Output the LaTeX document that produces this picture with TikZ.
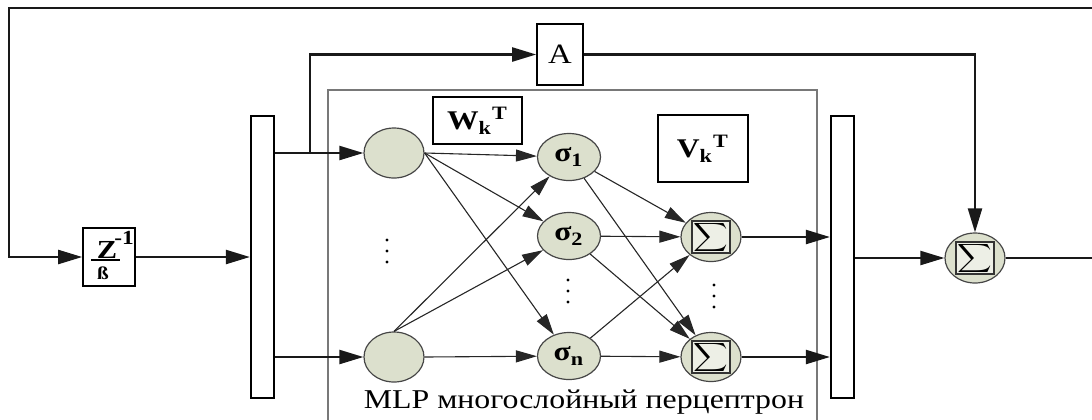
\documentclass[tikz,border=0pt]{standalone}
\usepackage{fontspec}
\setmainfont{Liberation Serif}
\usetikzlibrary{arrows.meta,shapes.geometric,calc}
\definecolor{nfill}{RGB}{220,224,205}
\definecolor{nedge}{RGB}{70,70,70}
\definecolor{frame}{RGB}{120,120,120}
\newcommand{\widetxt}[1]{\scalebox{1.17}[1]{#1}}
\newcommand{\sumsign}{\fontsize{8}{8}\selectfont\scalebox{1.2}[1]{$\displaystyle\sum$}}
\tikzset{
  mainline/.style={line width=1.1pt, draw=black!90},
  thinline/.style={line width=0.55pt, draw=black!85},
  bigtip/.style={-{Triangle[length=12pt,width=7pt]}},
  smalltip/.style={-{Triangle[length=10.5pt,width=6pt]}},
  neuron/.style={ellipse, draw=nedge, fill=nfill, line width=0.6pt, inner sep=0pt},
  inneuron/.style={neuron, minimum width=30pt, minimum height=25pt},
  signeuron/.style={neuron, minimum width=31.5pt, minimum height=23.5pt},
  sumneuron/.style={neuron, minimum width=30pt, minimum height=24.5pt},
  sumsq/.style={draw=black!80, line width=0.6pt, fill=white!50!nfill, minimum width=19pt, minimum height=14pt, inner sep=0pt},
  busbar/.style={draw=black, line width=1.1pt, fill=white, minimum width=11.5pt, minimum height=141pt, inner sep=0pt},
  blockbox/.style={draw=black, line width=0.8pt, fill=white, inner sep=0pt},
}
\begin{document}
\begin{tikzpicture}[x=0.5pt, y=-0.5pt]
\useasboundingbox (0,0) rectangle (1092,419);

% perceptron frame (open at the bottom)
\draw[draw=frame, line width=0.8pt] (328,425) -- (328,90) -- (817,90) -- (817,425);

% bus bars
\node[busbar] (lbar) at (262.5,257) {};
\node[busbar] (rbar) at (842.5,257) {};

% delay block
\node[blockbox, minimum width=26pt, minimum height=29pt] (zb) at (109,257) {};
\node[inner sep=0pt] (zz) at (107,250) {\fontsize{13}{13}\selectfont\widetxt{\textbf{Z}}};
\node[inner sep=0pt] (zexp) at (124,238) {\fontsize{10}{10}\selectfont\widetxt{\textbf{-1}}};
\node[inner sep=0pt] (zden) at (103,273) {\fontsize{9}{9}\selectfont\widetxt{\textbf{ß}}};
\draw[line width=0.8pt] (zb.west) ++(9,3) coordinate (fracL) -- ++(29,0) coordinate (fracR);

% linear part
\node[blockbox, minimum width=23pt, minimum height=30.5pt] (A) at (560,54.5) {\fontsize{14}{14}\selectfont\widetxt{A}};

% weight labels
\node[blockbox, line width=0.6pt, minimum width=44.5pt, minimum height=23.5pt] (W) at (477.5,120.5)
  {\fontsize{13.5}{13}\selectfont\widetxt{\textbf{W}\textsubscript{\textbf{k}}\textsuperscript{\textbf{T}}}};
\node[blockbox, line width=0.6pt, minimum width=45pt, minimum height=33.5pt] (V) at (703,148.5)
  {\fontsize{13.5}{13}\selectfont\widetxt{\textbf{V}\textsubscript{\textbf{k}}\textsuperscript{\textbf{T}}}};

% input layer
\node[inneuron] (c1) at (394,153) {};
\node[inneuron] (c2) at (394,357) {};

% hidden layer
\node[signeuron] (s1) at (569,157) {\fontsize{13.5}{13}\selectfont\widetxt{\textbf{σ}\textsubscript{\textbf{1}}}};
\node[signeuron] (s2) at (569,236) {\fontsize{13.5}{13}\selectfont\widetxt{\textbf{σ}\textsubscript{\textbf{2}}}};
\node[signeuron] (sn) at (569,356) {\fontsize{13.5}{13}\selectfont\widetxt{\textbf{σ}\textsubscript{\textbf{n}}}};

% output summators
\node[sumneuron] (o1) at (711,237) {};
\node[sumsq] (o1q) at (o1) {\sumsign};
\node[sumneuron] (o2) at (711,357) {};
\node[sumsq] (o2q) at (o2) {\sumsign};

% final summator
\node[sumneuron, minimum height=25pt] (fs) at (975,258) {};
\node[sumsq] (fsq) at (fs) {\sumsign};

% ellipsis dots
\foreach \yy in {240,251,262} \fill (387,\yy) circle (1.7);
\foreach \yy in {280,291,302} \fill (568,\yy) circle (1.7);
\foreach \yy in {285,296,307} \fill (714,\yy) circle (1.7);

% caption
\node[inner sep=0pt] (cap) at (584,402) {\fontsize{13.6}{14}\selectfont\widetxt{MLP многослойный перцептрон}};

% feedback loop
\coordinate (fbR) at (1092,8);
\coordinate (fbTL) at (9,8);
\coordinate (outR) at (1092,258);
\draw[mainline, bigtip] (fbR) -- (fbTL) |- (zb.west);
\draw[mainline, bigtip] (zb.east) -- (lbar.west |- zb);

% bus to input layer
\draw[mainline, bigtip] (lbar.east |- c1) -- (c1);
\draw[mainline, bigtip] (lbar.east |- c2) -- (c2);

% bypass through A
\coordinate (br) at (310,153);
\draw[mainline, bigtip] (br) |- (A.west);
\draw[mainline, bigtip] (A.east) -| (fs.north);

% input -> hidden
\draw[thinline, smalltip] (c1.east) -- (s1);
\draw[thinline, smalltip] (c1.east) -- (s2);
\draw[thinline, smalltip] (c1.east) -- (sn);
\draw[thinline, smalltip] (c2.north) -- (s1);
\draw[thinline, smalltip] (c2.north) -- (s2);
\draw[thinline, smalltip] (c2.east) -- (sn);

% hidden -> output
\draw[thinline, smalltip] (s1) -- (o1);
\draw[thinline, smalltip] (s1) -- (o2);
\draw[thinline, smalltip] (s2) -- (o1);
\draw[thinline, smalltip] (s2) -- (o2);
\draw[thinline, smalltip] (sn) -- (o1);
\draw[thinline, smalltip] (sn) -- (o2);

% output -> bus
\draw[mainline, bigtip] (o1) -- (o1 -| rbar.west);
\draw[mainline, bigtip] (o2) -- (o2 -| rbar.west);

% bus -> final summator -> output
\draw[mainline, bigtip] (rbar.east |- fs) -- (fs);
\draw[mainline] (fs) -- (outR);
\end{tikzpicture}
\end{document}
